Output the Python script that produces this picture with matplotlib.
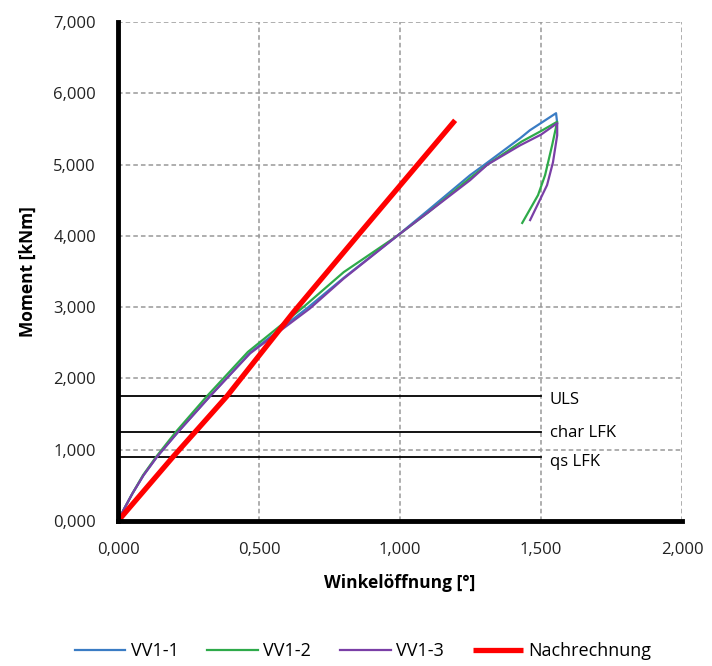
import matplotlib
matplotlib.use("Agg")
import matplotlib.pyplot as plt
from matplotlib.ticker import FuncFormatter, MultipleLocator

plt.rcParams['font.family'] = ['Open Sans', 'DejaVu Sans']

# Data (x: Winkelöffnung [°], y: Moment)
vv1_1_x = [0, 0.02, 0.05, 0.09, 0.138, 0.213, 0.326, 0.468, 0.675, 0.80, 0.99, 1.10, 1.248, 1.30, 1.426, 1.46, 1.553, 1.557]
vv1_1_y = [0, 0.16, 0.38, 0.64, 0.90, 1.25, 1.75, 2.36, 3.00, 3.41, 4.00, 4.36, 4.85, 5.00, 5.37, 5.48, 5.72, 5.58]

vv1_2_x = [0, 0.02, 0.05, 0.088, 0.135, 0.205, 0.315, 0.46, 0.657, 0.80, 0.99, 1.10, 1.248, 1.31, 1.43, 1.50, 1.557, 1.539, 1.514, 1.489, 1.433]
vv1_2_y = [0, 0.16, 0.38, 0.64, 0.90, 1.25, 1.75, 2.37, 3.00, 3.49, 4.00, 4.33, 4.81, 5.00, 5.32, 5.47, 5.60, 5.27, 4.85, 4.57, 4.18]

vv1_3_x = [0, 0.02, 0.05, 0.09, 0.138, 0.213, 0.326, 0.468, 0.68, 0.80, 0.99, 1.10, 1.248, 1.31, 1.426, 1.50, 1.557, 1.557, 1.542, 1.521, 1.461]
vv1_3_y = [0, 0.16, 0.38, 0.64, 0.90, 1.25, 1.75, 2.35, 2.98, 3.40, 4.00, 4.33, 4.78, 5.00, 5.27, 5.42, 5.58, 5.41, 5.03, 4.71, 4.22]

nach_x = [0, 0.195, 0.386, 0.62, 0.847, 1.195]
nach_y = [0, 0.90, 1.75, 2.92, 3.99, 5.62]

levels = [1.75, 1.25, 0.90]
level_labels = ["ULS", "char LFK", "qs LFK"]
level_xmax = 1.5

fig = plt.figure(figsize=(7.12, 6.66), dpi=100)
ax = fig.add_axes([0.166, 0.218, 0.792, 0.749])

ax.plot(vv1_1_x, vv1_1_y, color='#3a7cc4', lw=1.6, label='VV1-1')
ax.plot(vv1_2_x, vv1_2_y, color='#2eaa4a', lw=1.6, label='VV1-2')
ax.plot(vv1_3_x, vv1_3_y, color='#7a3fa6', lw=1.6, label='VV1-3')
ax.plot(nach_x, nach_y, color='#ff0000', lw=3.8, label='Nachrechnung', solid_capstyle='butt')

label_offsets = [-0.06, -0.02, -0.07]
for lv, lab, off in zip(levels, level_labels, label_offsets):
    ax.plot([0, level_xmax], [lv, lv], color='black', lw=1.3, zorder=1)
    ax.text(1.53, lv + off, lab, fontsize=12, va='center', ha='left')

ax.set_xlim(0, 2.0)
ax.set_ylim(0, 7.0)
ax.xaxis.set_major_locator(MultipleLocator(0.5))
ax.yaxis.set_major_locator(MultipleLocator(1.0))
fmt = FuncFormatter(lambda v, p: f"{v:.3f}".replace('.', ','))
ax.xaxis.set_major_formatter(fmt)
ax.yaxis.set_major_formatter(fmt)
ax.tick_params(length=0, labelsize=12, colors='#222222')
ax.tick_params(axis='x', pad=15)
ax.tick_params(axis='y', pad=16)

ax.grid(True, color='#999999', linestyle=(0, (3, 2)), lw=1.1, zorder=0)
ax.set_axisbelow(True)
for s in ['top', 'right']:
    ax.spines[s].set_visible(False)
for s in ['left', 'bottom']:
    ax.spines[s].set_linewidth(3.5)
    ax.spines[s].set_color('black')
    ax.spines[s].set_zorder(5)

ax.set_xlabel('Winkelöffnung [°]', fontsize=12.5, fontweight='bold', labelpad=12)
ax.set_ylabel('Moment [kNm]', fontsize=12.5, fontweight='bold', labelpad=12)

fig.legend(loc='center', bbox_to_anchor=(0.51, 0.022), ncol=4, frameon=False,
           fontsize=13, handlelength=2.8, handletextpad=0.3, columnspacing=1.6)

fig.savefig('out.png', dpi=100)
